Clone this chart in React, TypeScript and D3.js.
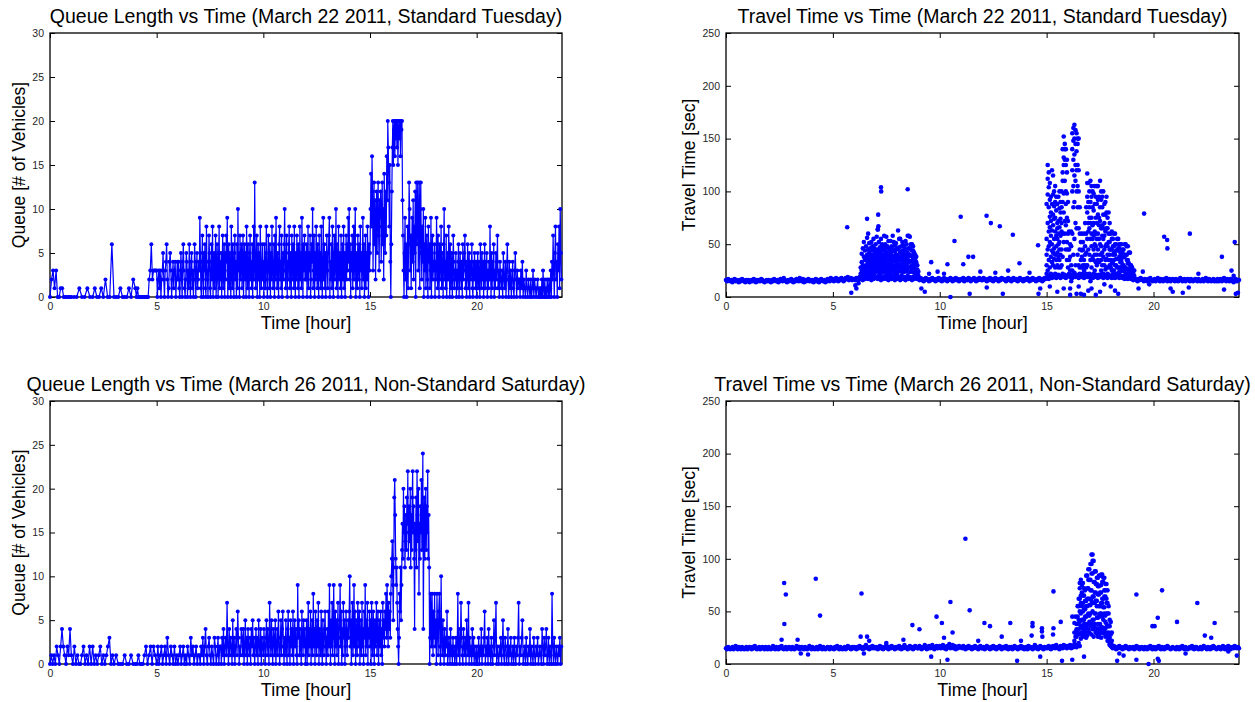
import { useEffect, useRef } from 'react';
import * as d3 from 'd3';

const W = 1255;
const H = 702;
const BLUE = '#0000ff';
const FONT = '"Liberation Sans", Arial, Helvetica, sans-serif';

const hourTicks = [0, 5, 10, 15, 20];
const queueTicks = [0, 5, 10, 15, 20, 25, 30];
const travelTicks = [0, 50, 100, 150, 200, 250];

// queue length samples, one row per hour (samples spread evenly inside the hour)
// March 22 2011, standard Tuesday
const queueTue: number[][] = [
  [0, 2, 3, 1, 3, 0, 0, 1, 1, 0, 0, 0, 0, 0],
  [0, 0, 0, 1, 0, 0, 1, 0],
  [0, 1, 0, 0, 1, 0, 2, 0, 0, 6],
  [0, 0, 0, 1, 0, 0, 0, 1, 0, 2],
  [1, 0, 1, 0, 0, 0, 0, 0, 0, 0, 0, 0, 0, 2, 3, 6, 2, 3, 3, 3],
  [3, 0, 2, 3, 1, 3, 0, 2, 3, 5, 2, 0, 3, 4, 6, 2, 0, 1, 4, 5, 3, 0, 2, 4, 1, 3, 4, 0, 2, 4],
  [2, 4, 1, 0, 3, 5, 2, 0, 4, 6, 3, 1, 0, 2, 5, 4, 0, 3, 1, 6, 2, 0, 4, 5, 1, 3, 0, 2, 6, 4, 0, 3, 5, 1, 2, 4],
  [3, 9, 5, 1, 0, 4, 7, 2, 0, 5, 3, 6, 1, 0, 8, 4, 2, 0, 3, 7, 5, 1, 0, 4, 6, 2, 8, 0, 3, 5, 1, 4, 7, 0, 2, 6, 3, 0, 5, 8, 1, 4],
  [2, 5, 0, 4, 7, 1, 3, 6, 0, 5, 2, 7, 4, 9, 0, 3, 6, 1, 5, 2, 0, 8, 4, 1, 6, 3, 0, 5, 7, 2, 4, 0, 6, 1, 10, 3, 5, 0, 7, 2, 4, 6],
  [1, 4, 7, 0, 3, 6, 2, 5, 0, 8, 4, 1, 6, 3, 0, 5, 7, 2, 4, 1, 6, 0, 3, 8, 2, 13, 5, 1, 4, 7, 0, 3, 6, 2, 5, 0, 8, 4, 1, 3, 6, 2],
  [4, 0, 6, 3, 1, 5, 8, 2, 0, 4, 7, 3, 1, 6, 0, 5, 2, 8, 4, 1, 3, 6, 0, 7, 2, 9, 4, 1, 5, 3, 0, 6, 8, 2, 4, 1, 7, 0, 3, 5, 2, 6],
  [10, 3, 1, 5, 7, 0, 4, 2, 6, 8, 1, 3, 5, 0, 7, 4, 2, 6, 1, 8, 3, 0, 5, 2, 7, 4, 1, 6, 0, 3, 8, 2, 5, 1, 9, 4, 0, 6, 3, 7, 2, 5],
  [2, 6, 0, 4, 8, 1, 5, 3, 7, 0, 2, 6, 4, 10, 1, 3, 7, 0, 5, 2, 8, 4, 1, 6, 3, 0, 7, 2, 5, 1, 8, 4, 0, 3, 9, 2, 6, 1, 5, 0, 4, 7],
  [3, 1, 5, 7, 9, 0, 4, 2, 6, 1, 8, 3, 0, 5, 7, 2, 4, 10, 1, 6, 3, 0, 8, 2, 5, 4, 1, 7, 0, 3, 6, 2, 8, 1, 5, 0, 4, 7, 2, 6, 3, 9],
  [4, 10, 2, 6, 0, 5, 3, 7, 1, 4, 8, 2, 6, 10, 0, 3, 5, 1, 7, 4, 2, 6, 0, 8, 3, 5, 1, 4, 9, 2, 6, 0, 3, 7, 1, 5, 2, 8, 4, 0, 6, 3],
  [5, 10, 14, 8, 16, 12, 3, 9, 13, 6, 11, 2, 8, 12, 5, 10, 13, 7, 3, 11, 9, 12, 4, 8, 13, 6, 10, 2, 14, 9, 5, 12, 7, 16, 11, 20, 17, 13, 8, 15, 4, 0],
  [6, 12, 17, 20, 15, 19, 20, 16, 20, 18, 20, 17, 20, 15, 19, 20, 18, 20, 16, 20, 19, 20, 11, 7, 3, 0, 5, 9, 2, 6, 0, 4, 8, 1, 6, 13, 10, 3, 7, 1, 5, 9],
  [4, 11, 2, 8, 5, 12, 0, 13, 6, 9, 13, 3, 7, 13, 1, 10, 13, 5, 2, 8, 4, 10, 0, 6, 3, 9, 1, 5, 7, 2, 0, 8, 4, 6, 1, 3, 9, 0, 5, 7, 2, 4],
  [3, 6, 0, 4, 2, 9, 5, 1, 7, 3, 0, 6, 2, 4, 8, 1, 5, 3, 0, 6, 10, 2, 4, 1, 7, 0, 3, 5, 2, 8, 4, 0, 6, 1, 3, 5, 0, 2, 7, 4, 1, 3],
  [2, 5, 0, 3, 1, 4, 6, 0, 2, 5, 3, 1, 4, 0, 6, 2, 3, 5, 7, 1, 4, 0, 2, 6, 3, 1, 5, 0, 4, 2, 3, 6, 1, 0, 4, 2, 5, 3, 1, 4],
  [0, 3, 5, 1, 4, 2, 0, 6, 3, 1, 5, 2, 4, 0, 3, 6, 1, 4, 2, 5, 0, 3, 1, 4, 2, 8, 3, 0, 5, 1, 4, 2, 6, 0, 3, 1, 5, 2, 4, 7],
  [1, 3, 0, 4, 2, 1, 3, 0, 5, 2, 1, 4, 0, 3, 6, 2, 0, 4, 1, 3, 0, 2, 4, 1, 0, 3, 5, 2, 0, 3, 1, 2],
  [2, 0, 3, 1, 4, 0, 2, 1, 0, 3, 1, 0, 2, 1, 0, 2, 0, 1, 3, 0, 2, 1, 0, 1, 2, 0, 1, 0],
  [1, 0, 2, 0, 3, 1, 0, 2, 0, 1, 0, 2, 1, 0, 2, 0, 1, 3, 0, 4, 2, 7, 3, 0, 5, 8, 2, 4, 0, 6, 3, 8, 1, 10, 5, 2],
];

// March 26 2011, non-standard Saturday
const queueSat: number[][] = [
  [0, 1, 0, 1, 0, 2, 1, 0, 2, 4, 2, 1, 0, 2, 1, 4],
  [1, 0, 2, 0, 1, 0, 0, 1, 2, 0, 1, 0, 2, 0],
  [2, 0, 1, 0, 1, 2, 0, 1, 0, 1, 2, 3, 0, 1],
  [0, 1, 0, 0, 0, 1, 0, 0, 1, 0],
  [0, 0, 1, 0, 0, 0, 1, 2, 0, 1, 2, 0, 2, 1],
  [0, 2, 0, 1, 2, 0, 1, 2, 0, 3, 1, 0, 2, 1, 0, 2, 0, 1],
  [0, 1, 2, 0, 1, 2, 0, 1, 0, 2, 1, 0, 3, 1, 2, 0, 1, 2, 0, 1],
  [1, 0, 2, 1, 3, 0, 2, 4, 1, 0, 2, 3, 1, 0, 2, 1, 0, 3, 2, 0, 1, 3, 0, 2],
  [2, 0, 3, 1, 4, 0, 2, 3, 1, 7, 2, 0, 4, 1, 3, 2, 0, 5, 1, 3, 0, 2, 4, 1, 6, 3, 0, 2, 1, 4],
  [3, 1, 4, 0, 2, 5, 1, 3, 0, 4, 2, 1, 3, 0, 4, 2, 5, 1, 3, 0, 2, 4, 1, 3, 0, 5, 2, 1, 4, 0, 3, 2],
  [1, 4, 2, 0, 3, 5, 1, 4, 2, 0, 7, 3, 1, 5, 2, 0, 4, 3, 1, 5, 0, 2, 4, 1, 6, 3, 0, 2, 5, 1, 4, 6, 2, 0],
  [3, 1, 5, 2, 0, 4, 6, 1, 3, 0, 5, 2, 4, 1, 6, 0, 3, 5, 2, 4, 1, 0, 9, 3, 5, 1, 4, 2, 0, 6, 3, 1, 5, 2, 4, 0],
  [2, 5, 0, 3, 7, 1, 4, 2, 6, 0, 3, 5, 1, 8, 2, 4, 0, 6, 3, 1, 5, 2, 7, 0, 4, 3, 1, 6, 2, 0, 5, 3, 1, 4, 6, 2, 0, 3],
  [4, 1, 6, 2, 9, 3, 0, 5, 2, 7, 1, 4, 9, 3, 0, 6, 2, 5, 1, 4, 7, 0, 3, 5, 9, 2, 6, 0, 4, 1, 7, 3, 5, 0, 2, 6, 4, 1, 3, 5],
  [3, 6, 10, 2, 5, 0, 4, 7, 1, 3, 9, 2, 6, 0, 5, 3, 1, 7, 4, 2, 6, 0, 3, 5, 1, 7, 2, 4, 0, 6, 3, 9, 1, 5, 2, 7, 0, 4, 3, 6],
  [2, 5, 0, 7, 3, 1, 6, 4, 0, 5, 2, 3, 7, 1, 4, 6, 0, 3, 5, 2, 6, 1, 4, 0, 7, 3, 5, 2, 6, 4, 8, 3, 9, 5, 2, 7, 4, 6, 3, 8],
  [10, 12, 14, 9, 5, 11, 19, 21, 17, 12, 9, 11, 7, 4, 2, 0, 3, 8, 6, 11, 5, 9, 13, 16, 12, 20, 15, 18, 11, 14, 17, 13, 19, 16, 22, 12, 15, 18, 14, 20, 11, 17, 13, 19],
  [22, 15, 18, 12, 4, 16, 13, 19, 11, 22, 17, 14, 20, 8, 16, 12, 18, 15, 21, 13, 17, 24, 4, 14, 19, 12, 16, 20, 13, 18, 15, 22, 12, 17, 11, 0, 3, 8, 5, 2, 8, 4, 1, 6],
  [3, 8, 2, 5, 0, 8, 4, 1, 6, 8, 2, 0, 10, 3, 1, 5, 2, 0, 4, 1, 3, 2, 6, 0, 1, 3, 2, 0, 4, 1, 2, 0, 3, 1, 2, 0],
  [1, 3, 0, 2, 8, 1, 4, 0, 2, 7, 3, 1, 0, 4, 2, 1, 3, 0, 5, 2, 1, 7, 0, 3, 1, 2, 0, 4, 1, 3, 0, 2, 1, 0],
  [2, 0, 1, 3, 0, 2, 1, 4, 0, 2, 1, 3, 6, 0, 2, 1, 3, 0, 4, 1, 2, 0, 3, 1, 0, 2, 5, 1, 3, 7, 0, 2],
  [1, 0, 2, 1, 3, 0, 2, 5, 1, 0, 3, 2, 0, 1, 4, 0, 2, 1, 3, 0, 1, 2, 0, 3, 1, 0, 2, 1, 3, 7],
  [0, 2, 1, 3, 5, 0, 1, 2, 0, 3, 1, 0, 2, 1, 4, 0, 2, 1, 0, 3, 1, 0, 2, 1, 3, 0, 1, 2],
  [1, 0, 4, 2, 0, 3, 1, 2, 4, 0, 1, 3, 0, 2, 1, 0, 8, 2, 0, 3, 1, 0, 2, 1, 0, 2, 1, 3, 0, 2],
];

// free-flow travel time [sec], every 3 minutes, one row per hour (20 values)
const BASE_STEP = 0.05;
const travelBaseTue = [
  16, 15, 17, 16, 15, 16, 14, 16, 17, 15, 16, 15, 14, 16, 15, 17, 16, 15, 14, 16,
  15, 16, 14, 15, 16, 15, 17, 15, 14, 16, 15, 16, 15, 17, 16, 15, 14, 15, 16, 15,
  16, 15, 14, 16, 15, 17, 16, 15, 16, 14, 15, 17, 16, 15, 18, 16, 15, 14, 16, 15,
  16, 17, 15, 14, 16, 15, 17, 16, 15, 18, 16, 15, 17, 14, 16, 15, 16, 17, 15, 16,
  15, 16, 14, 16, 17, 15, 16, 14, 15, 17, 16, 15, 16, 14, 15, 17, 16, 15, 18, 16,
  17, 15, 16, 18, 16, 15, 17, 16, 18, 17, 15, 16, 18, 17, 19, 16, 17, 18, 16, 17,
  17, 16, 18, 17, 16, 19, 17, 18, 16, 19, 17, 18, 20, 17, 19, 18, 16, 19, 17, 18,
  18, 19, 17, 20, 18, 16, 19, 17, 18, 20, 17, 19, 16, 18, 20, 17, 19, 18, 16, 19,
  17, 19, 18, 16, 20, 18, 17, 19, 16, 18, 20, 17, 19, 18, 16, 19, 17, 20, 18, 17,
  17, 16, 18, 16, 17, 15, 16, 18, 17, 16, 15, 17, 16, 18, 17, 16, 15, 17, 16, 18,
  16, 17, 15, 16, 18, 16, 17, 15, 16, 17, 18, 16, 15, 17, 16, 18, 16, 17, 15, 16,
  17, 16, 18, 15, 16, 17, 16, 18, 17, 15, 16, 17, 18, 16, 15, 17, 16, 18, 17, 16,
  16, 18, 17, 16, 15, 17, 16, 18, 16, 17, 15, 16, 18, 17, 16, 15, 17, 16, 18, 17,
  17, 16, 15, 17, 18, 16, 17, 15, 16, 18, 17, 16, 17, 15, 16, 18, 17, 16, 15, 17,
  16, 17, 18, 16, 15, 17, 16, 18, 17, 16, 15, 17, 16, 18, 16, 17, 15, 16, 18, 17,
  18, 20, 17, 19, 21, 18, 20, 19, 22, 18, 20, 21, 19, 18, 20, 22, 19, 21, 18, 20,
  20, 22, 19, 21, 18, 20, 23, 19, 21, 20, 18, 22, 20, 19, 21, 18, 20, 22, 19, 21,
  19, 21, 20, 18, 22, 19, 21, 20, 18, 21, 19, 20, 22, 18, 21, 19, 20, 18, 21, 19,
  20, 18, 21, 19, 18, 20, 19, 21, 18, 20, 19, 18, 20, 17, 19, 18, 17, 19, 18, 17,
  17, 16, 18, 17, 16, 15, 17, 16, 18, 17, 16, 15, 17, 16, 15, 17, 16, 18, 16, 15,
  16, 17, 15, 16, 18, 16, 15, 17, 16, 15, 17, 16, 18, 15, 16, 17, 15, 16, 17, 16,
  15, 17, 16, 15, 16, 18, 17, 15, 16, 17, 15, 16, 17, 16, 15, 17, 16, 15, 16, 17,
  16, 15, 17, 16, 15, 16, 17, 15, 16, 18, 16, 15, 17, 16, 15, 16, 17, 15, 16, 15,
  17, 15, 16, 17, 15, 16, 18, 16, 15, 17, 16, 15, 17, 16, 15, 14, 16, 17, 15, 16,
  16,
];

const travelBaseSat = [
  15, 14, 16, 15, 14, 15, 16, 14, 15, 17, 15, 14, 16, 15, 14, 16, 15, 14, 15, 16,
  14, 15, 16, 15, 14, 16, 15, 17, 15, 14, 15, 16, 14, 15, 16, 15, 14, 16, 15, 14,
  16, 15, 14, 15, 17, 15, 14, 16, 15, 14, 16, 15, 17, 15, 14, 15, 16, 14, 15, 16,
  15, 14, 16, 15, 14, 15, 17, 15, 16, 14, 15, 16, 15, 14, 16, 15, 14, 15, 17, 15,
  14, 16, 15, 14, 15, 16, 14, 15, 17, 15, 14, 16, 15, 14, 15, 16, 15, 14, 16, 15,
  15, 14, 16, 15, 17, 15, 14, 16, 15, 14, 15, 16, 14, 15, 17, 16, 15, 14, 16, 15,
  16, 15, 14, 16, 15, 17, 16, 15, 14, 16, 15, 18, 16, 15, 14, 16, 15, 17, 15, 16,
  15, 16, 14, 15, 17, 15, 16, 14, 15, 16, 18, 15, 14, 16, 15, 17, 16, 15, 14, 16,
  16, 15, 17, 15, 14, 16, 15, 18, 16, 15, 14, 16, 17, 15, 16, 14, 15, 17, 16, 15,
  15, 17, 16, 14, 15, 16, 18, 15, 14, 16, 17, 15, 16, 18, 15, 14, 16, 17, 15, 16,
  17, 15, 16, 18, 15, 16, 14, 17, 16, 19, 15, 16, 18, 15, 17, 14, 16, 15, 17, 16,
  16, 15, 17, 16, 14, 16, 15, 17, 16, 15, 14, 16, 15, 17, 16, 15, 14, 16, 17, 15,
  15, 16, 14, 15, 17, 16, 15, 14, 16, 15, 17, 15, 16, 14, 15, 16, 17, 15, 14, 16,
  16, 15, 17, 15, 14, 16, 15, 16, 14, 15, 17, 16, 15, 14, 16, 15, 17, 15, 16, 14,
  15, 16, 14, 17, 15, 16, 15, 14, 16, 18, 15, 16, 14, 15, 17, 16, 15, 14, 16, 15,
  16, 15, 17, 16, 14, 15, 17, 16, 15, 18, 16, 15, 14, 17, 16, 15, 18, 16, 17, 15,
  17, 16, 18, 15, 17, 16, 19, 17, 16, 18, 20, 17, 24, 30, 26, 33, 28, 35, 27, 31,
  30, 36, 28, 33, 26, 38, 31, 29, 34, 27, 32, 25, 35, 29, 33, 26, 30, 22, 24, 19,
  17, 16, 15, 17, 16, 14, 16, 15, 17, 16, 15, 14, 16, 15, 17, 16, 15, 14, 16, 15,
  15, 16, 14, 15, 17, 15, 16, 14, 15, 16, 15, 14, 16, 15, 14, 16, 15, 17, 15, 14,
  16, 15, 14, 16, 15, 17, 15, 14, 16, 15, 14, 16, 15, 17, 16, 15, 14, 15, 16, 15,
  15, 14, 16, 15, 14, 16, 15, 17, 15, 14, 16, 15, 14, 15, 16, 15, 17, 15, 14, 16,
  16, 15, 14, 15, 16, 14, 15, 17, 16, 15, 14, 16, 15, 14, 16, 15, 17, 16, 15, 14,
  15, 16, 15, 14, 16, 17, 15, 14, 16, 15, 17, 16, 14, 15, 16, 15, 17, 16, 15, 16,
  15,
];

// congested periods: one column of travel times [sec] per 3-minute slot
const COL_STEP = 0.05;
const amStartTue = 6.3;
const amPeakTue: number[][] = [
  [22, 28, 19], [33, 25, 41], [21, 30, 46, 26], [24, 38, 29, 52], [35, 22, 44, 27],
  [30, 48, 25, 38, 20], [56, 40, 28, 34, 22], [45, 31, 24, 37, 60], [29, 42, 35, 23, 51], [38, 27, 46, 32, 21],
  [52, 33, 25, 40, 29], [44, 36, 22, 30, 48], [27, 39, 55, 31, 24], [35, 46, 28, 41, 22], [50, 33, 26, 38, 44],
  [29, 42, 36, 24, 57], [64, 31, 45, 27, 38], [40, 52, 34, 25, 30], [47, 29, 38, 22, 43], [36, 55, 41, 26, 32],
  [28, 44, 35, 50, 23], [39, 31, 47, 26, 36], [44, 24, 33, 58, 38], [50, 30, 41, 27, 35], [39, 46, 25, 33, 57],
  [33, 42, 28, 48, 22], [46, 37, 30, 53, 25], [29, 40, 35, 45, 24], [41, 53, 31, 26, 37], [34, 48, 28, 43, 23],
  [58, 30, 39, 25, 46], [38, 44, 27, 34, 52], [43, 21, 36, 49, 30], [35, 51, 27, 40, 24], [29, 40, 46, 33, 22],
  [63, 24, 37, 45, 31], [37, 47, 28, 55, 35], [31, 55, 42, 25, 38], [26, 42, 35, 48, 30], [35, 23, 44, 29, 52],
  [49, 38, 27, 41, 33], [29, 44, 36, 24, 47], [53, 33, 40, 27, 45], [25, 40, 31, 50, 36], [36, 58, 28, 42, 24],
  [58, 28, 46, 33, 39], [46, 57, 34, 24, 40], [34, 24, 50, 39, 29], [50, 39, 30, 44, 27], [30, 44, 27, 36, 48],
  [27, 36, 42, 23, 33], [36, 22, 30, 40], [33, 26, 38, 24], [26, 30, 22], [24, 20],
];

const pmStartTue = 15.0;
const pmPeakTue: number[][] = [
  [30, 55, 88, 40, 22], [112, 70, 45, 125, 25, 97], [118, 62, 85, 35, 104, 48], [76, 52, 92, 28, 66, 108, 10],
  [80, 38, 95, 58, 22, 72], [44, 88, 33, 63, 120, 50], [78, 97, 42, 68, 30, 115], [86, 55, 74, 46, 100, 36],
  [62, 90, 40, 75, 28, 105], [48, 82, 58, 35, 95, 20], [70, 42, 88, 55, 30, 65, 5], [50, 95, 38, 72, 60, 28],
  [84, 45, 66, 100, 35, 52], [74, 40, 90, 58, 28, 80], [100, 62, 45, 85, 30, 70], [140, 118, 90, 60, 38, 110],
  [152, 132, 80, 125, 52, 98, 8], [145, 110, 72, 140, 60, 130], [125, 88, 140, 45, 100, 68], [130, 98, 52, 118, 75, 35],
  [72, 45, 28, 60, 90], [45, 20, 62, 35], [50, 25, 8, 38, 2], [62, 30, 48, 15],
  [155, 120, 140, 100, 60, 25], [160, 105, 148, 130, 85, 40], [163, 115, 150, 135, 55, 90, 20], [158, 110, 145, 125, 70, 30],
  [155, 138, 100, 120, 65, 3], [150, 125, 85, 145, 40, 105], [120, 150, 65, 100, 30, 10], [85, 45, 28, 60],
  [35, 52, 3, 20], [44, 28, 60, 38], [30, 52, 22, 45], [60, 35, 25, 2],
  [48, 30, 70, 40], [60, 85, 42, 28], [117, 95, 80, 30, 55, 108], [108, 70, 45, 90, 6, 62],
  [100, 65, 85, 40, 22, 75], [90, 55, 110, 35, 70, 15], [105, 75, 48, 95, 28, 60, 8], [85, 55, 100, 38, 68, 18],
  [98, 70, 45, 82, 35, 58], [62, 88, 40, 105, 50, 25], [75, 48, 95, 33, 60, 2], [88, 40, 70, 55, 105, 30],
  [60, 105, 45, 78, 35, 92], [75, 33, 95, 55, 68, 20], [110, 50, 85, 40, 72, 5], [92, 65, 35, 100, 48, 25],
  [68, 85, 42, 58, 30, 95], [100, 55, 78, 38, 65, 22], [58, 30, 88, 45, 70, 12], [78, 48, 62, 35, 90, 26],
  [95, 36, 65, 50, 80, 28], [65, 22, 48, 75, 40], [80, 52, 35, 60, 28], [40, 70, 52, 30, 45],
  [28, 60, 45, 35, 10], [45, 55, 32, 62, 25], [55, 32, 48, 40, 25], [48, 25, 60, 35, 42],
  [40, 60, 30, 50, 6], [30, 50, 22, 44, 36], [22, 44, 36, 55, 28], [36, 55, 28, 46, 3],
  [28, 46, 38, 24, 50], [38, 24, 50, 33, 42], [50, 33, 42, 28, 36], [42, 30, 45, 25],
  [30, 45, 25, 38], [25, 38, 50, 28], [50, 28, 40, 22], [40, 22, 35, 48],
  [35, 48, 26, 32], [26, 32, 42, 24], [42, 24, 30, 20], [30, 20, 28],
  [28, 22, 25], [22, 25], [25, 20],
];

const pmStartSat = 16.3;
const pmPeakSat: number[][] = [
  [22, 39, 30], [30, 26, 45], [26, 38, 33], [38, 45, 30, 55], [33, 55, 42, 28, 62],
  [72, 40, 62, 29, 77, 50], [28, 80, 48, 65, 36, 58], [68, 35, 55, 42, 75, 30], [58, 77, 42, 65, 34, 50], [42, 65, 30, 52, 72, 38],
  [30, 52, 70, 45, 60, 36], [45, 60, 38, 84, 55, 25], [38, 84, 55, 72, 46, 62], [72, 33, 90, 62, 48, 80], [90, 62, 46, 80, 56, 40],
  [80, 56, 95, 38, 70, 48], [95, 38, 70, 104, 86, 60], [104, 86, 50, 98, 64, 42], [98, 64, 42, 78, 58, 35], [78, 58, 35, 88, 68, 48],
  [88, 68, 48, 76, 30, 60], [76, 30, 60, 82, 44, 55], [82, 44, 66, 26, 74, 38], [66, 26, 74, 55, 84, 45], [55, 84, 38, 68, 48, 30],
  [68, 85, 48, 58, 35, 75], [85, 58, 30, 78, 62, 45], [78, 62, 42, 82, 54, 30], [82, 54, 70, 34, 64, 48], [70, 34, 64, 46, 76, 40],
  [76, 38, 58, 28, 48, 62], [58, 28, 48, 36, 70], [48, 22, 36, 55, 30], [36, 18, 42, 25], [28, 40, 20], [18, 30, 22],
];

// isolated readings [hour, sec]
const travelOutTue: [number, number][] = [
  [5.67, 66], [5.86, 4], [6.05, 11], [6.1, 8], [6.2, 13], [6.6, 74], [7.1, 64], [7.12, 78], [7.13, 67], [7.25, 104],
  [7.26, 100], [8.5, 102], [9.14, 8], [9.3, 5], [9.5, 22], [9.6, 33], [9.9, 24], [10.2, 22], [10.36, 31], [10.5, 0],
  [10.69, 53], [10.98, 76], [11.1, 31], [11.34, 38], [11.4, 3], [11.56, 38], [11.9, 24], [12.19, 77], [12.2, 9], [12.39, 70],
  [12.6, 23], [12.81, 67], [12.95, 3], [13.2, 25], [13.42, 59], [13.73, 32], [14.2, 23], [14.6, 49], [14.62, 3], [14.7, 8],
  [19.3, 8], [19.5, 24], [19.56, 79], [19.8, 12], [20.5, 57], [20.64, 54], [20.65, 46], [20.8, 8], [20.9, 5], [21.37, 4],
  [21.65, 9], [21.7, 60], [22.1, 22], [23.2, 38], [23.3, 7], [23.65, 25], [23.75, 20], [23.8, 52], [23.85, 3], [23.95, 4],
];

const travelOutSat: [number, number][] = [
  [2.6, 23], [2.72, 77], [2.73, 38], [2.8, 66], [3.35, 23], [3.45, 16], [3.5, 10], [3.84, 9], [4.2, 81], [4.4, 46],
  [6.3, 26], [6.34, 67], [6.45, 10], [6.6, 26], [6.7, 22], [7.5, 20], [8.3, 23], [8.72, 37], [9.05, 33], [9.6, 7],
  [9.85, 45], [10.1, 39], [10.2, 25], [10.36, 4], [10.5, 59], [10.6, 30], [11.2, 119], [11.4, 51], [11.8, 22], [12.09, 39],
  [12.35, 36], [12.9, 26], [13.3, 39], [13.62, 3], [13.8, 22], [14.3, 27], [14.34, 39], [14.34, 36], [14.7, 7], [14.78, 34],
  [14.78, 31], [14.8, 26], [15.3, 28], [15.32, 69], [15.32, 34], [15.66, 40], [15.72, 3], [16.2, 45], [16.2, 4], [16.75, 7],
  [18.3, 3], [18.4, 10], [18.6, 8], [19.2, 66], [19.2, 4], [19.77, 0], [19.95, 36], [20.05, 36], [20.2, 44], [20.2, 5],
  [20.25, 3], [20.4, 70], [21.1, 40], [21.5, 10], [22.05, 58], [22.4, 27], [22.7, 25], [22.86, 39], [23.5, 12], [23.9, 8],
];

type Pt = [number, number];

const fromHours = (rows: number[][]): Pt[] =>
  rows.flatMap((row, h) => row.map((v, k) => [h + k / row.length, v] as Pt));
const fromSeries = (vals: number[], step: number): Pt[] => vals.map((v, i) => [i * step, v] as Pt);
const fromColumns = (cols: number[][], start: number): Pt[] =>
  cols.flatMap((col, i) => col.map(v => [start + i * COL_STEP, v] as Pt));

const panels = [
  {
    title: 'Queue Length vs Time (March 22 2011, Standard Tuesday)',
    yLabel: 'Queue [# of Vehicles]',
    left: 50, right: 562, top: 33, bottom: 297, yLabelGap: 25.5,
    yTicks: queueTicks, kind: 'queue',
    points: fromHours(queueTue),
  },
  {
    title: 'Travel Time vs Time (March 22 2011, Standard Tuesday)',
    yLabel: 'Travel Time [sec]',
    left: 726, right: 1239, top: 33, bottom: 297, yLabelGap: 31.5,
    yTicks: travelTicks, kind: 'travel',
    points: [
      ...fromSeries(travelBaseTue, BASE_STEP),
      ...fromColumns(amPeakTue, amStartTue),
      ...fromColumns(pmPeakTue, pmStartTue),
      ...travelOutTue,
    ],
  },
  {
    title: 'Queue Length vs Time (March 26 2011, Non-Standard Saturday)',
    yLabel: 'Queue [# of Vehicles]',
    left: 50, right: 562, top: 401, bottom: 664, yLabelGap: 25.5,
    yTicks: queueTicks, kind: 'queue',
    points: fromHours(queueSat),
  },
  {
    title: 'Travel Time vs Time (March 26 2011, Non-Standard Saturday)',
    yLabel: 'Travel Time [sec]',
    left: 726, right: 1239, top: 401, bottom: 664, yLabelGap: 31.5,
    yTicks: travelTicks, kind: 'travel',
    points: [
      ...fromSeries(travelBaseSat, BASE_STEP),
      ...fromColumns(pmPeakSat, pmStartSat),
      ...travelOutSat,
    ],
  },
];

const App = () => {
  const svgRef = useRef<SVGSVGElement>(null);

  useEffect(() => {
    const svg = d3.select(svgRef.current);
    svg.selectAll('*').remove();

    panels.forEach(p => {
      const yTicks = p.yTicks;
      const x = d3.scaleLinear().domain([0, 24]).range([p.left, p.right]);
      const y = d3.scaleLinear().domain([0, yTicks[yTicks.length - 1]]).range([p.bottom, p.top]);
      const g = svg.append('g');

      const styleAxis = (a: any) => {
        a.select('.domain').remove();
        a.selectAll('.tick line').attr('stroke', '#000').attr('stroke-width', 1);
        a.selectAll('text')
          .attr('font-family', FONT)
          .attr('font-size', 10.5)
          .attr('fill', '#262626');
      };

      // MATLAB-style box with inward ticks on every side
      g.append('g')
        .attr('transform', `translate(0,${p.bottom})`)
        .call(d3.axisBottom(x).tickValues(hourTicks).tickSizeInner(-5).tickSizeOuter(0).tickPadding(6))
        .call(styleAxis);
      g.append('g')
        .attr('transform', `translate(0,${p.top})`)
        .call(d3.axisTop(x).tickValues(hourTicks).tickSizeInner(-5).tickSizeOuter(0).tickFormat(() => ''))
        .call(styleAxis);
      g.append('g')
        .attr('transform', `translate(${p.left},0)`)
        .call(d3.axisLeft(y).tickValues(yTicks).tickSizeInner(-5).tickSizeOuter(0).tickPadding(6))
        .call(styleAxis);
      g.append('g')
        .attr('transform', `translate(${p.right},0)`)
        .call(d3.axisRight(y).tickValues(yTicks).tickSizeInner(-5).tickSizeOuter(0).tickFormat(() => ''))
        .call(styleAxis);

      g.append('rect')
        .attr('x', p.left)
        .attr('y', p.top)
        .attr('width', p.right - p.left)
        .attr('height', p.bottom - p.top)
        .attr('fill', 'none')
        .attr('stroke', '#000')
        .attr('stroke-width', 1.3);

      // Title and labels
      g.append('text')
        .attr('x', (p.left + p.right) / 2)
        .attr('y', p.top - 10)
        .attr('text-anchor', 'middle')
        .attr('font-family', FONT)
        .attr('font-size', 19.5)
        .attr('fill', '#000')
        .text(p.title);
      g.append('text')
        .attr('x', (p.left + p.right) / 2)
        .attr('y', p.bottom + 32)
        .attr('text-anchor', 'middle')
        .attr('font-family', FONT)
        .attr('font-size', 18)
        .attr('fill', '#000')
        .text('Time [hour]');
      g.append('text')
        .attr('transform', `translate(${p.left - p.yLabelGap},${(p.top + p.bottom) / 2}) rotate(-90)`)
        .attr('text-anchor', 'middle')
        .attr('font-family', FONT)
        .attr('font-size', 17.5)
        .attr('fill', '#000')
        .text(p.yLabel);

      if (p.kind === 'queue') {
        const line = d3.line<Pt>()
          .x(d => x(d[0]))
          .y(d => y(d[1]));
        g.append('path')
          .datum(p.points)
          .attr('d', line)
          .attr('fill', 'none')
          .attr('stroke', BLUE)
          .attr('stroke-width', 1.2)
          .attr('stroke-linejoin', 'round');
        g.append('g')
          .selectAll('circle')
          .data(p.points)
          .join('circle')
          .attr('cx', d => x(d[0]))
          .attr('cy', d => y(d[1]))
          .attr('r', 2)
          .attr('fill', BLUE);
      } else {
        g.append('g')
          .selectAll('circle')
          .data(p.points)
          .join('circle')
          .attr('cx', d => x(d[0]))
          .attr('cy', d => y(d[1]))
          .attr('r', 2.3)
          .attr('fill', BLUE);
      }
    });
  }, []);

  return (
    <svg
      ref={svgRef}
      width={W}
      height={H}
      style={{ position: 'absolute', left: 0, top: 0, background: '#fff' }}
    />
  );
};

export default App;
